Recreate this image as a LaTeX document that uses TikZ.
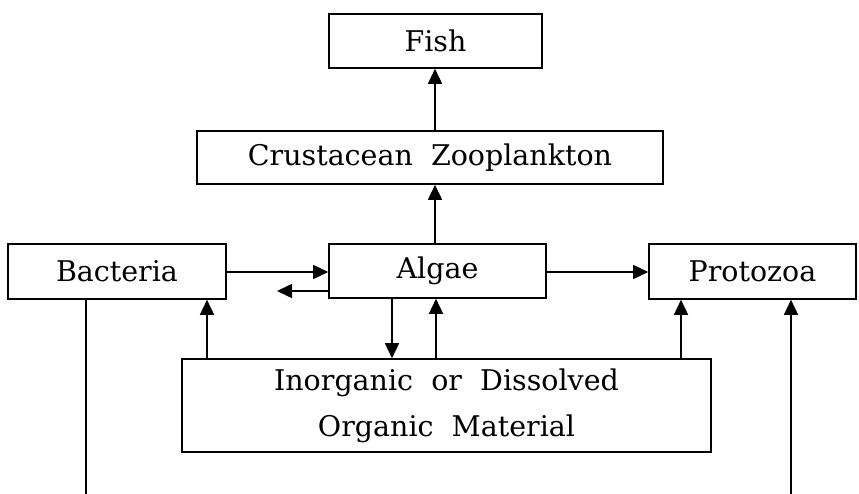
\documentclass[tikz,border=0pt]{standalone}
\usepackage{fontspec}
\setmainfont{DejaVu Serif}
\usetikzlibrary{arrows.meta}
\begin{document}
\begin{tikzpicture}[x=1pt,y=-1pt,
  box/.style={draw,line width=1.6pt,inner sep=0pt,font=\fontsize{28.5}{46}\selectfont},
  arr/.style={line width=1.6pt,-{Triangle[length=15pt,width=14pt]}},
  ln/.style={line width=1.6pt}]
\useasboundingbox (0,0) rectangle (859,494);
\node[box,minimum width=213pt,minimum height=54pt] (fish) at (435.5,41) {Fish};
\node[box,minimum width=466pt,minimum height=53pt] (crust) at (430,157.5) {Crustacean\ \ Zooplankton};
\node[box,minimum width=218pt,minimum height=55pt] (bact) at (117,271.5) {Bacteria};
\node[box,minimum width=217pt,minimum height=54pt] (algae) at (437.5,271) {Algae};
\node[box,minimum width=207pt,minimum height=55pt] (proto) at (752.5,271.5) {Protozoa};
\node[box,minimum width=529pt,minimum height=93pt,align=center] (inorg) at (446.5,405.5) {Inorganic\ \ or\ \ Dissolved\\Organic\ \ Material};
\coordinate (xa) at (435,0);
\coordinate (xd) at (392,0);
\coordinate (xu) at (436,0);
\coordinate (xb) at (207,0);
\coordinate (xp) at (681,0);
\coordinate (bl) at (277,291);
\coordinate (y1) at (0,272);
\coordinate (bb) at (86,494);
\coordinate (pb) at (791,494);
\draw[arr] (crust.north -| xa) -- (fish.south -| xa);
\draw[arr] (algae.north -| xa) -- (crust.south -| xa);
\draw[arr] (bact.east |- y1) -- (algae.west |- y1);
\draw[arr] (algae.west |- bl) -- (bl);
\draw[arr] (algae.east |- y1) -- (proto.west |- y1);
\draw[arr] (algae.south -| xd) -- (inorg.north -| xd);
\draw[arr] (inorg.north -| xu) -- (algae.south -| xu);
\draw[arr] (inorg.north -| xb) -- (bact.south -| xb);
\draw[arr] (inorg.north -| xp) -- (proto.south -| xp);
\draw[ln] (bact.south -| bb) -- (bb);
\draw[arr] (pb) -- (proto.south -| pb);
\end{tikzpicture}
\end{document}
